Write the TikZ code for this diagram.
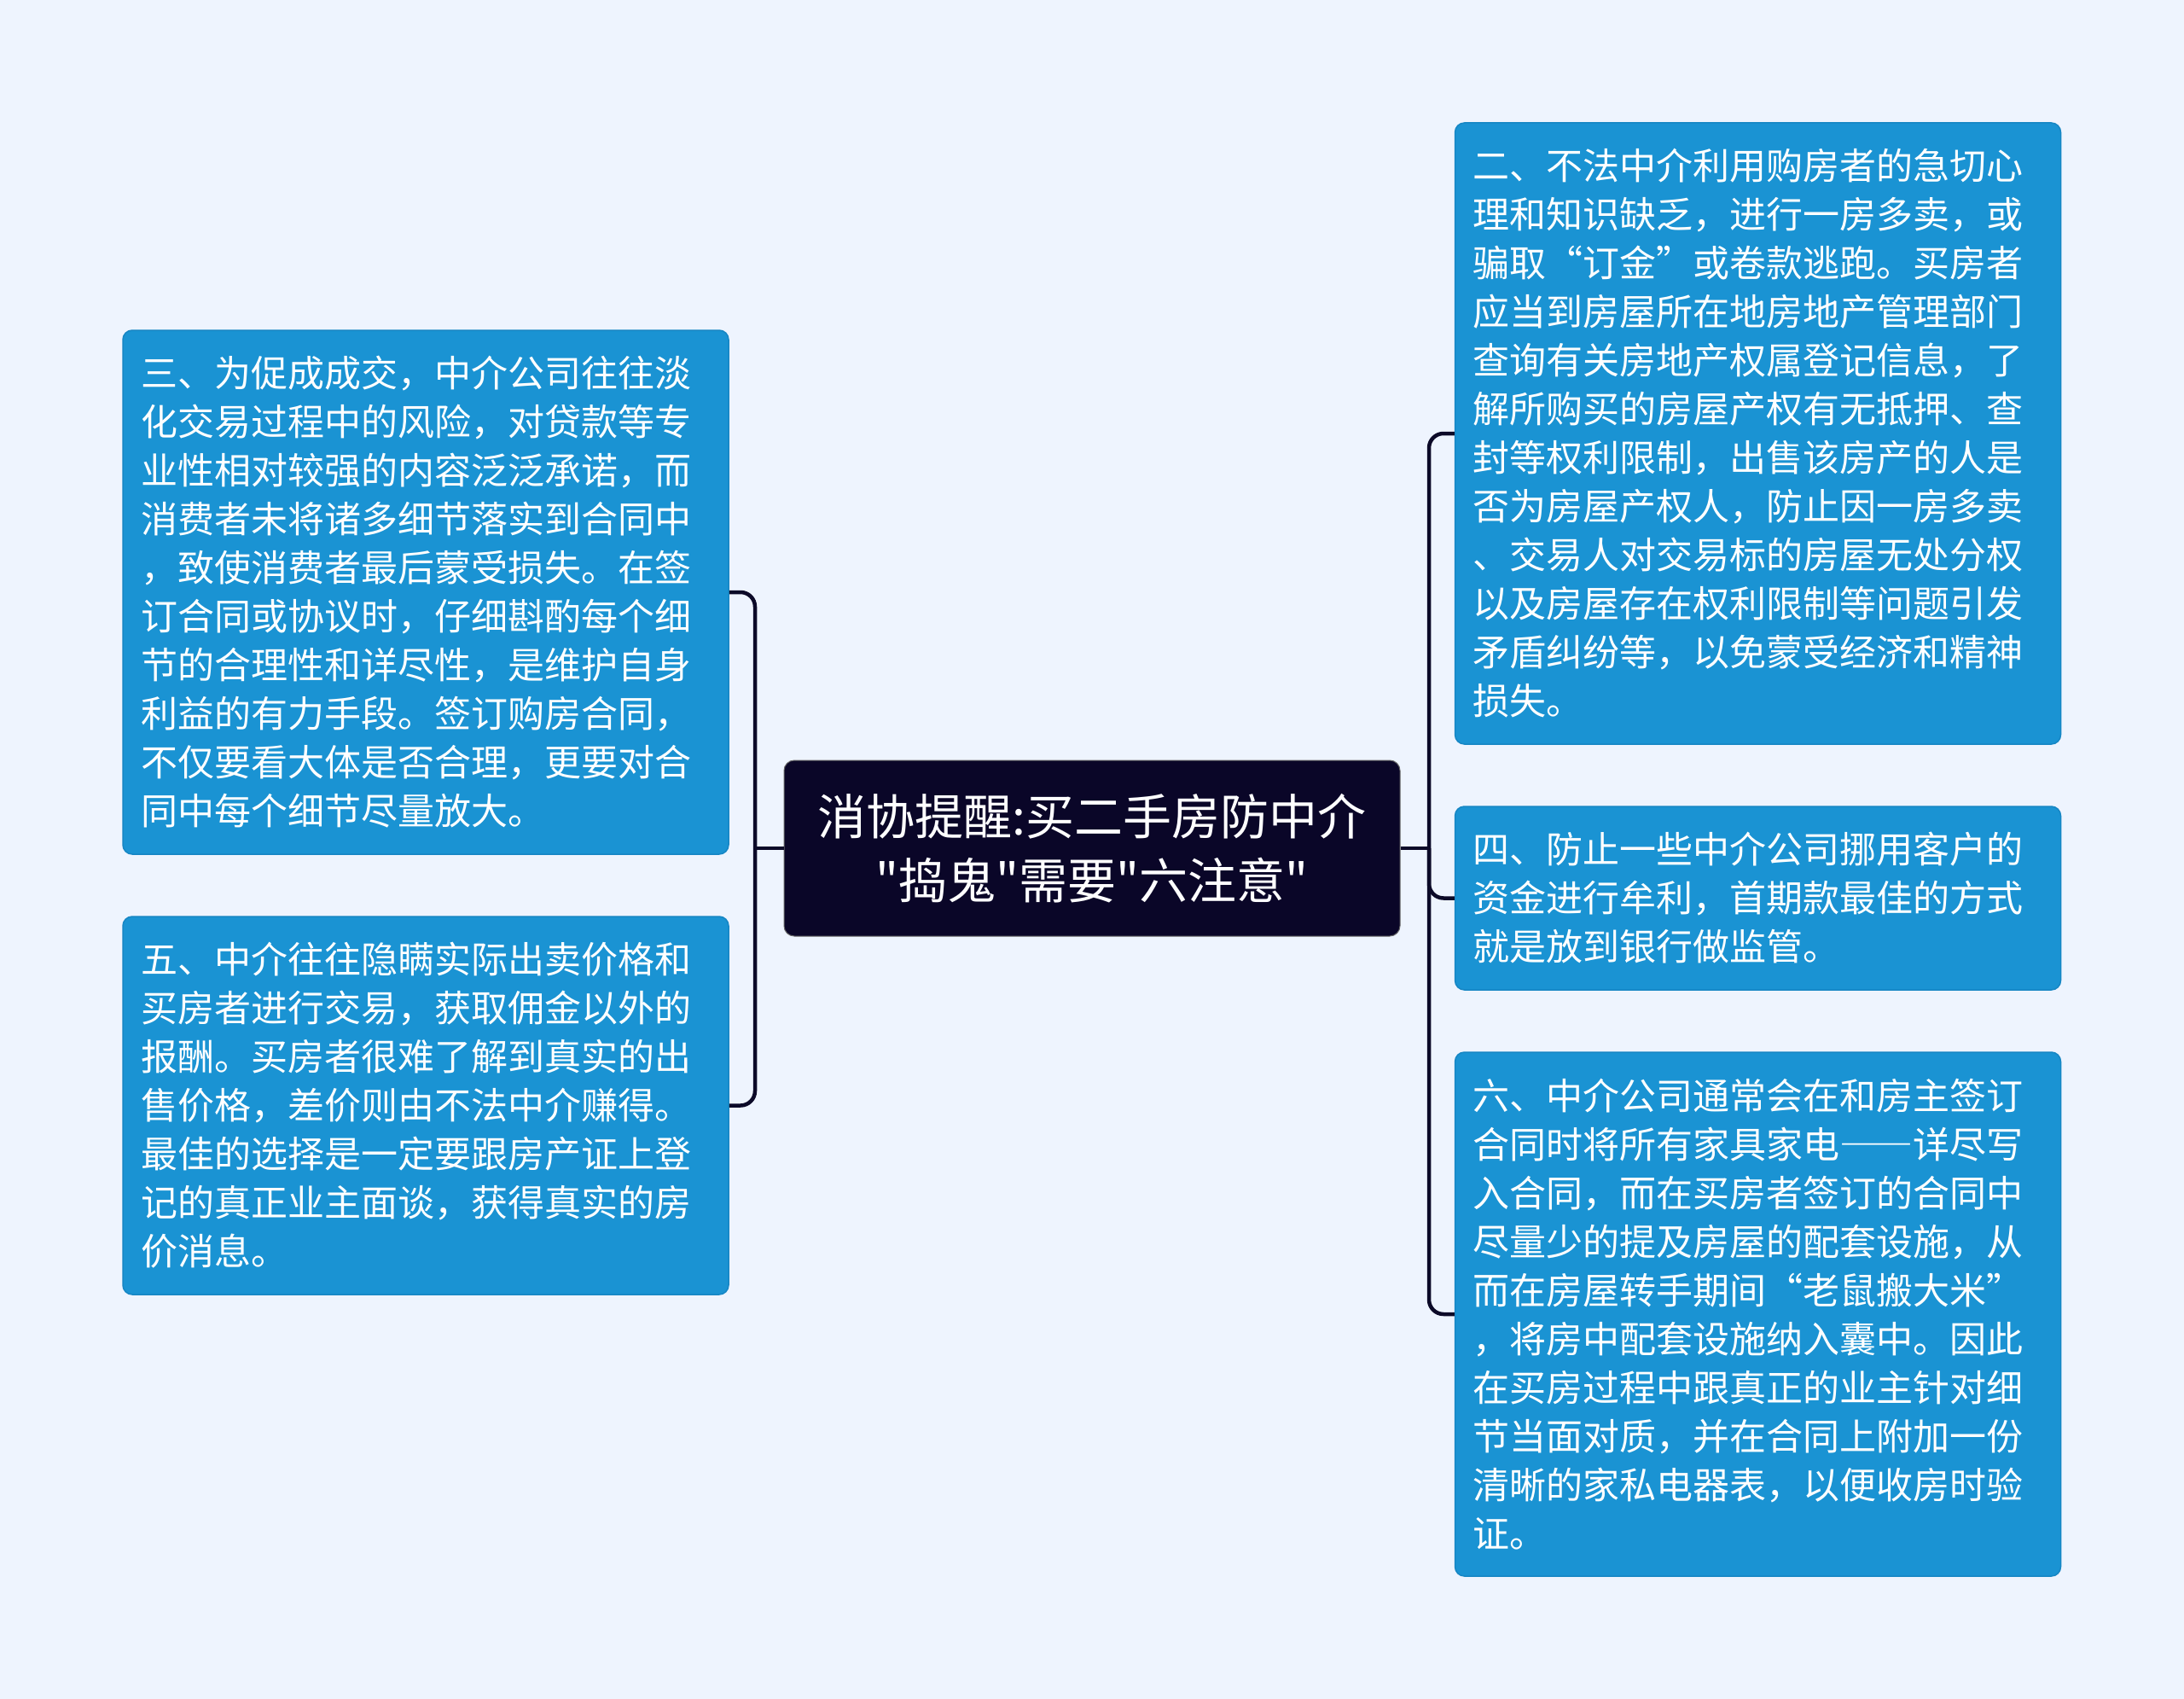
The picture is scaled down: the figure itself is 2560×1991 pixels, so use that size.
\documentclass[tikz,border=0pt]{standalone}
\usepackage{fontspec}
\newfontfamily\cjk{Noto Sans CJK SC}
\newfontfamily\cjkfull{Noto Sans CJK SC}[CharacterWidth=Full]
\definecolor{bgc}{RGB}{238,244,254}
\definecolor{boxblue}{RGB}{26,147,211}
\definecolor{boxedge}{RGB}{22,134,196}
\definecolor{rootc}{RGB}{10,6,40}
\definecolor{linec}{RGB}{12,10,40}
\tikzset{
  leaf/.style={rectangle, rounded corners=11pt, fill=boxblue, draw=boxedge, line width=1.5pt,
    text=white, align=left, text width=668pt, inner xsep=21pt, inner ysep=0pt,
    font=\cjk\fontsize{43}{57}\selectfont},
  rootbox/.style={rectangle, rounded corners=12pt, fill=rootc, draw=black!60, line width=1pt,
    text=white, align=center, minimum width=722pt, minimum height=206pt,
    font=\cjk\fontsize{57}{75}\selectfont},
  conn/.style={draw=linec, line width=4.5pt, rounded corners=17pt},
}
\begin{document}
\begin{tikzpicture}[x=1pt,y=-1pt]
\useasboundingbox (0,0) rectangle (2560,1991);
\fill[bgc] (0,0) rectangle (2560,1991);

\node[rootbox] (c) at (1280,994) {消协提醒:买二手房防中介\\"捣鬼"需要"六注意"};

\node[leaf, minimum height=614pt] (l1) at (499,694) {三、为促成成交，中介公司往往淡\\化交易过程中的风险，对贷款等专\\业性相对较强的内容泛泛承诺，而\\消费者未将诸多细节落实到合同中\\，致使消费者最后蒙受损失。在签\\订合同或协议时，仔细斟酌每个细\\节的合理性和详尽性，是维护自身\\利益的有力手段。签订购房合同，\\不仅要看大体是否合理，更要对合\\同中每个细节尽量放大。};

\node[leaf, minimum height=443pt] (l2) at (499,1295.5) {五、中介往往隐瞒实际出卖价格和\\买房者进行交易，获取佣金以外的\\报酬。买房者很难了解到真实的出\\售价格，差价则由不法中介赚得。\\最佳的选择是一定要跟房产证上登\\记的真正业主面谈，获得真实的房\\价消息。};

\node[leaf, minimum height=728pt] (r1) at (2060.5,508) {二、不法中介利用购房者的急切心\\理和知识缺乏，进行一房多卖，或\\骗取“订金”或卷款逃跑。买房者\\应当到房屋所在地房地产管理部门\\查询有关房地产权属登记信息，了\\解所购买的房屋产权有无抵押、查\\封等权利限制，出售该房产的人是\\否为房屋产权人，防止因一房多卖\\、交易人对交易标的房屋无处分权\\以及房屋存在权利限制等问题引发\\矛盾纠纷等，以免蒙受经济和精神\\损失。};

\node[leaf, minimum height=215pt] (r2) at (2060.5,1052.5) {四、防止一些中介公司挪用客户的\\资金进行牟利，首期款最佳的方式\\就是放到银行做监管。};

\node[leaf, minimum height=614pt] (r3) at (2060.5,1540) {六、中介公司通常会在和房主签订\\合同时将所有家具家电{\cjkfull\fontsize{43}{57}\selectfont ——}详尽写\\入合同，而在买房者签订的合同中\\尽量少的提及房屋的配套设施，从\\而在房屋转手期间“老鼠搬大米”\\，将房中配套设施纳入囊中。因此\\在买房过程中跟真正的业主针对细\\节当面对质，并在合同上附加一份\\清晰的家私电器表，以便收房时验\\证。};

\coordinate (lj) at (885,994);
\coordinate (rj) at (1675,994);

\draw[conn] (l1.east) -| (lj) |- (l2.east);
\draw[conn] (c.west) -- (lj);
\draw[conn] (r1.west) -| (rj) |- (r3.west);
\draw[conn] (c.east) -- (rj);
\draw[conn] (rj) |- (r2.west);
\end{tikzpicture}
\end{document}
